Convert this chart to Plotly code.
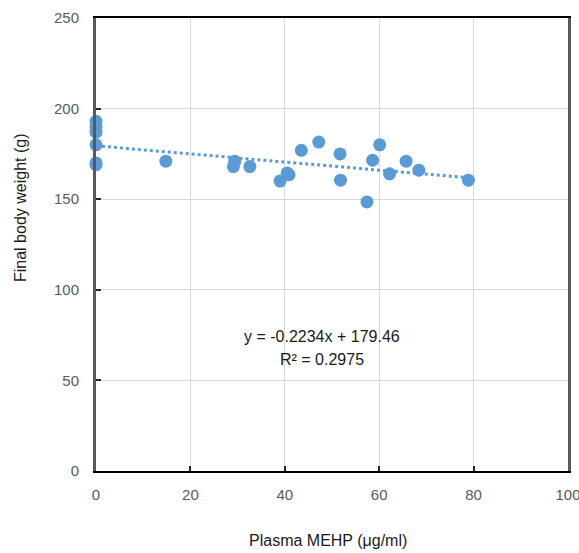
import plotly.graph_objects as go

# Data
mehp = [0, 0, 0, 0, 0, 0, 14.8, 29.4, 29.1, 32.6, 39.0, 40.9, 40.5, 43.5,
        47.2, 51.7, 51.8, 57.4, 58.6, 60.1, 62.2, 65.7, 68.4, 78.9]
weight = [193, 190, 187, 180, 170, 169, 171, 171, 168, 168, 160, 163.5, 164.5, 177,
          181.5, 175, 160.5, 148.5, 171.5, 180, 164, 171, 166, 160.5]
slope = -0.2234
intercept = 179.46
r_squared = 0.2975
x_ticks = [0, 20, 40, 60, 80, 100]
y_ticks = [0, 50, 100, 150, 200, 250]

blue = "#5B9BD5"
font_family = "Liberation Sans, Arial, sans-serif"

trend_x = [min(mehp), max(mehp)]
trend_y = [slope * v + intercept for v in trend_x]

fig = go.Figure()
fig.add_trace(go.Scatter(
    x=mehp, y=weight, mode="markers",
    marker=dict(size=13, color=blue, line=dict(width=0)),
    showlegend=False, cliponaxis=False,
))
fig.add_trace(go.Scatter(
    x=trend_x, y=trend_y, mode="lines",
    line=dict(color=blue, width=3, dash="dot"),
    showlegend=False,
))

fig.update_layout(
    width=579, height=553,
    margin=dict(l=96, r=11, t=18, b=82, autoexpand=False),
    paper_bgcolor="white", plot_bgcolor="white",
    font=dict(family=font_family),
    xaxis=dict(
        range=[0, 100], tickvals=x_ticks, ticktext=[str(v) for v in x_ticks],
        showgrid=True, gridcolor="#D9D9D9", gridwidth=1,
        showline=True, linecolor="black", linewidth=1.5, mirror=True,
        ticks="inside", ticklen=5, tickcolor="#262626", tickwidth=2,
        tickfont=dict(size=15, color="#595959"),
        ticklabelstandoff=9, zeroline=False, automargin=False,
        ticklabeloverflow="allow",
    ),
    yaxis=dict(
        range=[0, 250], tickvals=y_ticks, ticktext=[str(v) for v in y_ticks],
        showgrid=True, gridcolor="#D9D9D9", gridwidth=1,
        showline=True, linecolor="#595959", linewidth=3, mirror=True,
        ticks="inside", ticklen=5, tickcolor="#262626", tickwidth=2,
        tickfont=dict(size=15, color="#595959"),
        ticklabelstandoff=11, zeroline=False, automargin=False,
    ),
    annotations=[
        dict(text=f"y = {slope}x + {intercept}", x=47.9, y=74, xref="x", yref="y",
             showarrow=False, font=dict(size=16, color="#1a1a1a")),
        dict(text=f"R² = {r_squared}", x=47.9, y=61.3, xref="x", yref="y",
             showarrow=False, font=dict(size=16, color="#1a1a1a")),
        dict(text="Plasma MEHP (μg/ml)", x=328, y=540, xref="paper", yref="paper",
             showarrow=False, font=dict(size=16, color="#1a1a1a")),
        dict(text="Final body weight (g)", x=20, y=208, xref="paper", yref="paper",
             textangle=-90, showarrow=False, font=dict(size=16, color="#1a1a1a")),
    ],
)

# convert pixel positions of axis titles into paper coordinates
pw = 579 - 96 - 11
ph = 553 - 18 - 82
for ann in fig.layout.annotations[2:]:
    ann.x = (ann.x - 96) / pw
    ann.y = (553 - 82 - ann.y) / ph
    ann.xanchor = "center"
    ann.yanchor = "middle"

fig.write_html("out.html", config={"displayModeBar": False},
               post_script="document.body.style.margin='0';document.body.style.overflow='hidden';")
